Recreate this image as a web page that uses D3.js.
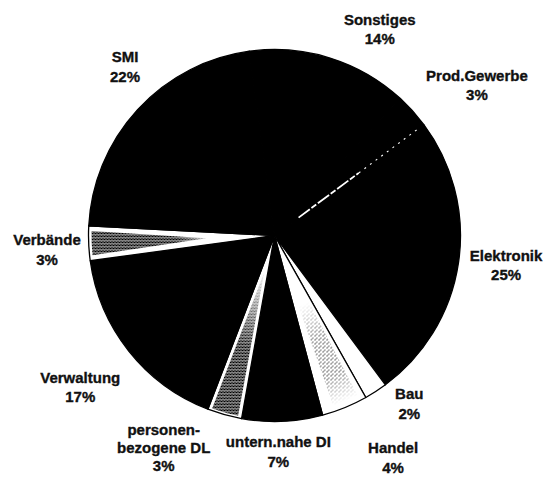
<!DOCTYPE html>
<html><head><meta charset="utf-8">
<script src="https://cdn.jsdelivr.net/npm/d3@7"></script>
<style>
html,body{margin:0;padding:0;background:#fff;}
svg{display:block;}
text{font-family:"Liberation Sans",Arial,sans-serif;font-weight:bold;font-size:15px;fill:#111;stroke:#111;stroke-width:0.35px;}
</style>
</head><body>
<svg id="chart" width="546" height="477"></svg>
<script>
// ---- data ----
const categories = ["Sonstiges","Prod.Gewerbe","Elektronik","Bau","Handel","untern.nahe DI","personen-\nbezogene DL","Verwaltung","Verbände","SMI"];
const values = [14,3,25,2,4,7,3,17,3,22];
const percentLabels = ["14%","3%","25%","2%","4%","7%","3%","17%","3%","22%"];

// ---- layout / style ----
const W = 546, H = 477;
const cx = 274.5, cy = 235.5, R = 186;
const startDeg = -7.8;
const deg = d3.scaleLinear().domain([0,360]).range([0,2*Math.PI]);
const fills = ["#000","#000","#000","#fff","#fff","#000","#fff","#000","#fff","#000"];
const labelR = 230;
const labelNudge = [[36.5,13.5],[31.5,4],[4.1,-3.6],[9.5,-24.5],[31.7,9.5],[-5.8,-13.3],[-49,-8.9],[-14,8.9],[2.3,5.1],[19.8,-12.8]];

const data = categories.map((c,i)=>({name:c,value:values[i],pct:percentLabels[i],fill:fills[i],i}));

const svg = d3.select("#chart");
const defs = svg.append("defs");

// dense speckle pattern
const pDense = defs.append("pattern").attr("id","dense").attr("patternUnits","userSpaceOnUse")
  .attr("width",3).attr("height",3);
pDense.append("rect").attr("width",3).attr("height",3).attr("fill","#fff");
pDense.append("rect").attr("x",0).attr("y",0).attr("width",2).attr("height",2).attr("fill","#000");
pDense.append("rect").attr("x",2).attr("y",2).attr("width",1).attr("height",1).attr("fill","#000");
pDense.append("rect").attr("x",2).attr("y",0).attr("width",1).attr("height",1).attr("fill","#222");
// light speckle pattern
const pLight = defs.append("pattern").attr("id","light").attr("patternUnits","userSpaceOnUse")
  .attr("width",4).attr("height",4);
pLight.append("rect").attr("width",4).attr("height",4).attr("fill","#fff");
pLight.append("rect").attr("x",0).attr("y",0).attr("width",1).attr("height",1).attr("fill","#111");
pLight.append("rect").attr("x",2).attr("y",2).attr("width",1).attr("height",1).attr("fill","#333");
pLight.append("rect").attr("x",1).attr("y",3).attr("width",1).attr("height",1).attr("fill","#666");

function radialMask(id, stops){
  const rg = defs.append("radialGradient").attr("id",id+"G").attr("gradientUnits","userSpaceOnUse")
    .attr("cx",0).attr("cy",0).attr("r",R);
  stops.forEach(s=>rg.append("stop").attr("offset",s[0]).attr("stop-color",s[1]));
  defs.append("mask").attr("id",id).attr("maskUnits","userSpaceOnUse")
    .attr("x",-cx).attr("y",-cy).attr("width",W).attr("height",H)
    .append("rect").attr("x",-cx).attr("y",-cy).attr("width",W).attr("height",H).attr("fill",`url(#${id}G)`);
}
radialMask("fadeA",[[0.3,"#000"],[0.52,"#fff"],[1,"#fff"]]);
radialMask("fadeB",[[0.18,"#000"],[0.62,"#fff"],[1,"#fff"]]);
radialMask("fadeC",[[0.4,"#000"],[0.6,"#fff"],[0.82,"#fff"],[0.97,"#000"]]);

const pie = d3.pie().sort(null).value(d=>d.value)
  .startAngle(deg(startDeg)).endAngle(deg(startDeg+360));
const arcs = pie(data);
const arc = d3.arc().innerRadius(0).outerRadius(R);

const g = svg.append("g").attr("transform",`translate(${cx},${cy})`);

g.selectAll("path.slice").data(arcs).join("path")
  .attr("class","slice")
  .attr("d",arc)
  .attr("fill",d=>d.data.fill)
  .attr("stroke","#000").attr("stroke-width",1.3).attr("stroke-linejoin","round");

function wedgePath(a0,a1,rOut,rIn){
  const mid=(a0+a1)/2;
  const p0=d3.pointRadial(a0,rOut), p1=d3.pointRadial(a1,rOut), pm=d3.pointRadial(mid,rIn);
  return `M${p0[0]},${p0[1]}A${rOut},${rOut} 0 0 1 ${p1[0]},${p1[1]}L${pm[0]},${pm[1]}Z`;
}
const texSpec = [
  {name:"Verbände", inset:deg(1.6), rOut:R-3, rIn:68, mask:"fadeA"},
  {name:"personen-\nbezogene DL", inset:deg(1.2), rOut:R-2, rIn:38, mask:"fadeB"}
];
texSpec.forEach(s=>{
  const a = arcs.find(d=>d.data.name===s.name);
  g.append("path").attr("d",wedgePath(a.startAngle+s.inset,a.endAngle-s.inset,s.rOut,s.rIn))
    .attr("fill","url(#dense)").attr("mask",`url(#${s.mask})`);
});
// Handel light speckle band
{
  const a = arcs.find(d=>d.data.name==="Handel");
  const band = d3.arc().innerRadius(70).outerRadius(180)
    .startAngle(a.startAngle+deg(2)).endAngle(a.endAngle-deg(4));
  g.append("path").attr("d",band()).attr("fill","url(#light)").attr("mask","url(#fadeC)");
}

// thin white boundary line between Prod.Gewerbe and Elektronik
{
  const a = arcs.find(d=>d.data.name==="Prod.Gewerbe").endAngle;
  const p0=d3.pointRadial(a,30), p1=d3.pointRadial(a,105), p2=d3.pointRadial(a,182);
  g.append("line").attr("x1",p0[0]).attr("y1",p0[1]).attr("x2",p1[0]).attr("y2",p1[1])
    .attr("stroke","#fff").attr("stroke-width",1.8).attr("stroke-dasharray","14,2,6,2");
  g.append("line").attr("x1",p1[0]).attr("y1",p1[1]).attr("x2",p2[0]).attr("y2",p2[1])
    .attr("stroke","#fff").attr("stroke-width",1.1).attr("stroke-dasharray","2,5");
}

// labels
const labelArc = d3.arc().innerRadius(labelR).outerRadius(labelR);
const lg = svg.append("g");
arcs.forEach((d,i)=>{
  const c = labelArc.centroid(d);
  const x = cx + c[0] + labelNudge[i][0];
  const y = cy + c[1] + labelNudge[i][1];
  const lines = d.data.name.split("\n").concat([d.data.pct]);
  const lh = lines.length>2 ? 18 : 19.5;
  const t = lg.append("text").attr("text-anchor","middle");
  lines.forEach((ln,k)=>{
    t.append("tspan").attr("x",x).attr("y",y + (k-(lines.length-1)/2)*lh + 5).text(ln);
  });
});
</script>
</body></html>
